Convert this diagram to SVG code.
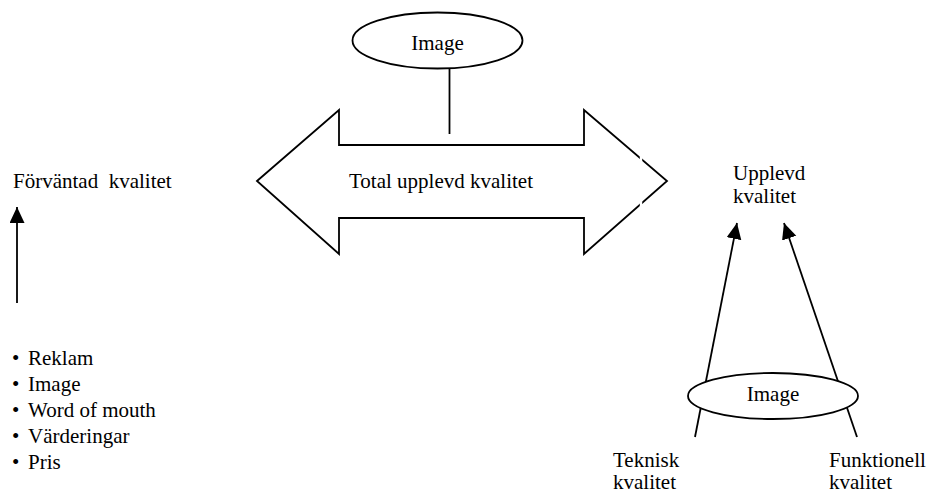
<svg xmlns="http://www.w3.org/2000/svg" width="928" height="494" viewBox="0 0 928 494">
<defs>
<style>
text{font-family:"Times New Roman","Liberation Serif","DejaVu Serif",serif;font-size:21px;fill:#000}
.ln{stroke:#000;stroke-width:1.8;fill:none}
.el{stroke:#000;stroke-width:1.8;fill:#fff}
</style>
<marker id="ah" markerUnits="userSpaceOnUse" markerWidth="18" markerHeight="16" refX="16" refY="7.5" orient="auto">
<path d="M0,0 L16,7.5 L0,15 z" fill="#000"/>
</marker>
</defs>
<g id="connectors">
<line class="ln" x1="449.5" y1="69" x2="449.5" y2="134"/>
<line class="ln" x1="17" y1="303" x2="17" y2="207" marker-end="url(#ah)"/>
<line class="ln" x1="695" y1="437" x2="737" y2="223" marker-end="url(#ah)"/>
<line class="ln" x1="857" y1="437" x2="784" y2="223" marker-end="url(#ah)"/>
</g>
<g id="total">
<polygon class="el" points="257,181 339,110 339,145 584,145 584,110 667,181 584,254 584,218 339,218 339,254"/>
<rect x="639.8" y="156" width="2.4" height="51" fill="#fff"/>
<text x="349" y="188" font-family="Liberation Serif, serif">Total upplevd kvalitet</text>
</g>
<g id="image-top">
<ellipse class="el" cx="437.5" cy="40.5" rx="85" ry="28"/>
<text x="437.5" y="50" text-anchor="middle" font-family="Liberation Serif, serif">Image</text>
</g>
<g id="forvantad">
<text x="13" y="188" xml:space="preserve" font-family="Liberation Serif, serif">Förväntad  kvalitet</text>
</g>
<g id="faktorer" font-family="Liberation Serif, serif">
<text x="12" y="365">•</text><text x="28" y="365">Reklam</text>
<text x="12" y="391">•</text><text x="28" y="391">Image</text>
<text x="12" y="417">•</text><text x="28" y="417">Word of mouth</text>
<text x="12" y="443">•</text><text x="28" y="443">Värderingar</text>
<text x="12" y="469">•</text><text x="28" y="469">Pris</text>
</g>
<g id="upplevd">
<text x="733" y="180">Upplevd</text>
<text x="733" y="203">kvalitet</text>
</g>
<g id="image-bottom">
<ellipse class="el" cx="773" cy="396" rx="85" ry="23"/>
<text x="773" y="401" text-anchor="middle">Image</text>
</g>
<g id="teknisk">
<text x="613" y="467">Teknisk</text>
<text x="613" y="489">kvalitet</text>
</g>
<g id="funktionell">
<text x="829" y="467">Funktionell</text>
<text x="829" y="489">kvalitet</text>
</g>
</svg>
